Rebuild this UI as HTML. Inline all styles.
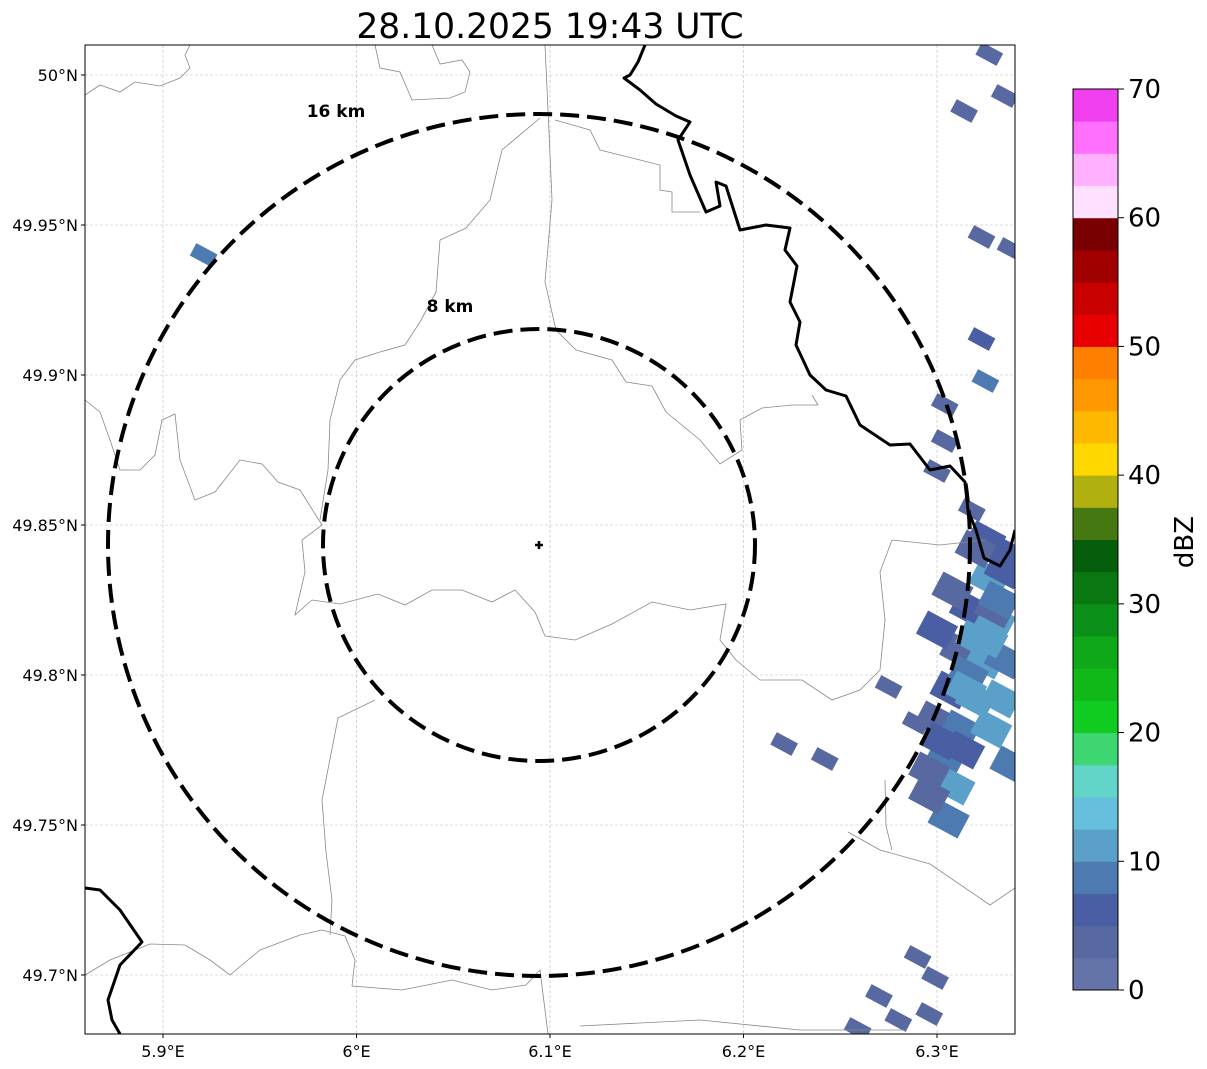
<!DOCTYPE html>
<html><head><meta charset="utf-8"><style>
body{margin:0;background:#fff;}
svg{display:block;font-family:"DejaVu Sans","Liberation Sans",sans-serif;}
</style></head><body>
<svg id="chart" width="1207" height="1069" viewBox="0 0 1207 1069">
<defs><clipPath id="mapclip"><rect x="85" y="45" width="930" height="989"/></clipPath></defs>
<text x="550" y="38" font-size="34.5" text-anchor="middle">28.10.2025 19:43 UTC</text>
<g id="grid"></g>
<g clip-path="url(#mapclip)">
<g id="echoes"></g>
<g fill="none" stroke="#888" stroke-width="0.8">
<polyline points="85,95 100,85 120,92 135,82 160,86 180,78 190,68 185,55 190,45"/>
<polyline points="375,45 380,68 400,72 412,100 450,98 465,92 470,72 462,60 440,64 432,45"/>
<polyline points="85,400 100,412 110,440 120,470 140,470 155,455 162,420 175,414 180,460 195,500 215,492 240,460 262,464 278,482 300,490 322,525 302,540 305,572 295,615 312,600 340,604 378,594 405,605 432,590 462,590 492,602 515,590 535,612 545,636 575,640 612,624 652,602 690,610 726,604 720,640 736,660 760,680 802,680 832,700 860,690 880,670 885,620 880,572 892,540 940,545 985,540"/>
<polyline points="545,45 548,110 552,200 545,282 556,330 576,350 612,360 626,382 652,386 666,412 700,440 720,464 742,450 740,420 762,408 792,405 818,405 812,395"/>
<polyline points="540,118 502,150 490,200 466,228 440,240 436,292 420,322 405,345 380,352 355,360 340,380 330,420 328,470 320,520"/>
<polyline points="85,975 110,960 150,944 185,945 210,960 230,975 260,950 300,935 322,930 345,936 355,960 352,986 402,990 452,980 492,990 526,985 540,970 548,1034"/>
<polyline points="375,700 338,718 322,800 326,852 332,900 330,935"/>
<polyline points="580,1026 700,1020 800,1030 905,1030"/>
<polyline points="848,832 880,850 930,864 990,905 1015,888"/>
<polyline points="885,780 886,826 892,850"/>
<polyline points="555,120 590,130 600,150 640,160 660,165 660,190 672,192 672,212 700,212"/>
</g>
<g fill="none" stroke="#000" stroke-width="3" stroke-linejoin="round">
<polyline points="645,45 638,62 630,75 624,78 640,90 656,104 676,116 690,122 678,140 690,175 706,212 720,206 716,182 726,186 740,230 766,225 790,228 785,250 797,266 790,302 800,322 796,345 810,375 826,390 846,396 860,425 890,445 910,444 930,470 950,466 965,482 968,510 976,530 984,558 1000,566 1010,550 1015,530"/>
<polyline points="85,888 100,890 120,910 142,942 120,965 108,1000 112,1020 120,1034"/>
</g>
<g fill="none" stroke="#000" stroke-width="4" stroke-dasharray="19,8">
<circle cx="539" cy="545" r="431"/>
<circle cx="539" cy="545" r="216"/>
</g>
</g>
<text x="336" y="117" font-size="17" font-weight="bold" text-anchor="middle">16 km</text>
<text x="450" y="312" font-size="17" font-weight="bold" text-anchor="middle">8 km</text>
<path d="M535,545 H543 M539,541 V549" stroke="#000" stroke-width="2.5"/>
<rect x="85" y="45" width="930" height="989" fill="none" stroke="#000" stroke-width="1"/>
<g id="xticks"></g>
<g id="yticks"></g>
<g id="cbar"></g>
<text x="1193" y="542" font-size="26" text-anchor="middle" transform="rotate(-90 1193 542)">dBZ</text>
</svg>
<script>
const lonTicks=[5.9,6.0,6.1,6.2,6.3];
const lonLabels=["5.9°E","6°E","6.1°E","6.2°E","6.3°E"];
const latTicks=[50,49.95,49.9,49.85,49.8,49.75,49.7];
const latLabels=["50°N","49.95°N","49.9°N","49.85°N","49.8°N","49.75°N","49.7°N"];
const cbTicks=[0,10,20,30,40,50,60,70];
const cbColors=["#6474a8","#5868a0","#4a5ea4","#4d7ab0","#5ba0c8","#66bfdc","#62d4c8","#3dd670","#10cc20","#10b818","#0ea818","#0a9018","#097810","#065e0c","#457810","#b0b010","#ffd800","#ffb800","#ff9800","#ff8000","#e80000","#c80000","#a00000","#780000","#ffe0ff","#ffb0ff","#ff70ff","#f040f0"];
const cellLon=[5.921,6.314,6.327,6.335,6.323,6.338,6.323,6.325,6.304,6.325,6.327,6.317,6.330,6.312,6.325,6.335,6.307,6.320,6.333,6.299,6.312,6.328,6.304,6.309,6.296,6.335,6.330,6.275,6.289,6.221,6.242,6.290,6.299,6.270,6.296,6.280,6.259,6.304,6.300,6.318,6.300,6.316,6.338,6.308,6.320,6.332,6.315,6.302,6.314,6.326,6.306,6.296,6.336,6.320];
const cellLat=[49.940,49.988,50.007,49.993,49.946,49.942,49.912,49.898,49.878,49.845,49.832,49.822,49.818,49.808,49.805,49.805,49.795,49.792,49.792,49.785,49.782,49.782,49.772,49.763,49.768,49.835,49.822,49.796,49.784,49.777,49.772,49.706,49.699,49.693,49.687,49.685,49.682,49.890,49.868,49.855,49.815,49.800,49.770,49.828,49.812,49.825,49.795,49.778,49.775,49.812,49.752,49.760,49.840,49.842];
const cellDbz=[8,3,3,3,3,3,5,9,3,5,12,6,10,4,11,9,5,10,12,4,8,10,9,10,4,5,3,3,3,4,4,3,3,3,3,3,3,3,3,4,6,9,8,4,10,9,11,5,6,10,9,4,5,4];
const NS="http://www.w3.org/2000/svg";
function xOf(lon){return 163+(lon-5.9)*1935;}
function yOf(lat){return 75+(50-lat)*3000;}
function cbY(v){return 990-(v/70)*901;}
function mk(tag,attrs,parent){const e=document.createElementNS(NS,tag);for(const k in attrs)e.setAttribute(k,attrs[k]);parent.appendChild(e);return e;}
const grid=document.getElementById('grid');
lonTicks.forEach(l=>{const e=mk('line',{x1:xOf(l),x2:xOf(l),y1:45,y2:1034,stroke:'#bbb','stroke-width':0.6,'stroke-dasharray':'3,2'},grid);

});
latTicks.forEach(l=>{const e=mk('line',{x1:85,x2:1015,y1:yOf(l),y2:yOf(l),stroke:'#bbb','stroke-width':0.6,'stroke-dasharray':'3,2'},grid);

});
const xt=document.getElementById('xticks');
lonTicks.forEach((l,i)=>{mk('line',{x1:xOf(l),x2:xOf(l),y1:1034,y2:1038,stroke:'#000'},xt);const t=mk('text',{x:xOf(l),y:1057,'font-size':16,'text-anchor':'middle'},xt);t.textContent=lonLabels[i];

});
const yt=document.getElementById('yticks');
latTicks.forEach((l,i)=>{mk('line',{x1:81,x2:85,y1:yOf(l),y2:yOf(l),stroke:'#000'},yt);const t=mk('text',{x:78,y:yOf(l)+6,'font-size':16,'text-anchor':'end'},yt);t.textContent=latLabels[i];

});
const ech=document.getElementById('echoes');
cellLon.forEach((lon,i)=>{const cx=xOf(lon),cy=yOf(cellLat[i]);const big=lon>6.29&&cellLat[i]<49.85&&cellLat[i]>49.74;const w=big?34:24,h=big?26:14;
const r=mk('rect',{x:cx-w/2,y:cy-h/2,width:w,height:h,fill:cbColors[Math.min(27,Math.floor(cellDbz[i]/2.5))],transform:`rotate(28 ${cx} ${cy})`},ech);

});
const cb=document.getElementById('cbar');
cbColors.forEach((c,i)=>{const r=mk('rect',{x:1073,y:cbY((i+1)*2.5),width:45,height:cbY(i*2.5)-cbY((i+1)*2.5)+0.5,fill:c},cb);

});
mk('rect',{x:1073,y:89,width:45,height:901,fill:'none',stroke:'#000','stroke-width':1},cb);
cbTicks.forEach(v=>{mk('line',{x1:1118,x2:1124,y1:cbY(v),y2:cbY(v),stroke:'#000'},cb);const t=mk('text',{x:1128,y:cbY(v)+9,'font-size':26},cb);t.textContent=v;

});
</script>
</body></html>
